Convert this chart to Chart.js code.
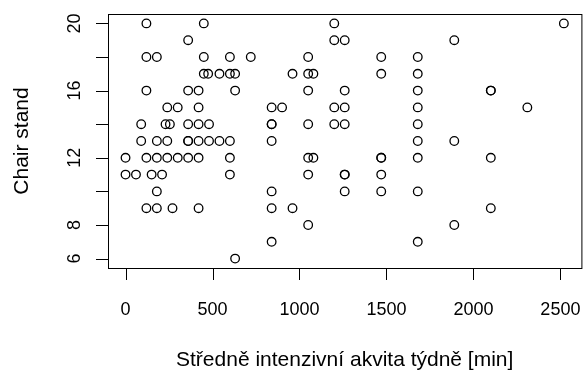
<!DOCTYPE html>
<html>
<head>
<meta charset="utf-8">
<script src="https://cdn.jsdelivr.net/npm/chart.js@4/dist/chart.umd.min.js"></script>
<style>
  html, body { margin: 0; padding: 0; background: #fff; }
</style>
</head>
<body>
<canvas id="plot" width="587" height="370"></canvas>
<script>
// weekly moderate activity [min] and chair stand count, one pair per person
const minutes = [
  120, 450, 1200, 2520,                                   // 20
  360, 1200, 1260, 1890,                                  // 19
  120, 180, 450, 600, 720, 1050, 1470, 1680,              // 18
  450, 475, 540, 600, 630, 960, 1050, 1080, 1470, 1680,   // 17
  120, 360, 420, 630, 1050, 1260, 1680, 2100, 2100,       // 16
  240, 300, 420, 840, 900, 1200, 1260, 1680, 2310,        // 15
  90, 230, 255, 360, 420, 480, 840, 840, 1050, 1200, 1260, 1680,        // 14
  90, 180, 240, 360, 360, 420, 480, 540, 600, 840, 1680, 1890,          // 13
  0, 120, 180, 240, 300, 360, 420, 600, 1050, 1080, 1470, 1470, 1680, 2100, // 12
  0, 60, 150, 210, 600, 1050, 1260, 1260, 1470,           // 11
  180, 840, 1260, 1470, 1680,                             // 10
  120, 180, 270, 420, 840, 960, 2100,                     // 9
  1050, 1890,                                             // 8
  840, 1680,                                              // 7
  630                                                     // 6
];
const chairStand = [
  20, 20, 20, 20,
  19, 19, 19, 19,
  18, 18, 18, 18, 18, 18, 18, 18,
  17, 17, 17, 17, 17, 17, 17, 17, 17, 17,
  16, 16, 16, 16, 16, 16, 16, 16, 16,
  15, 15, 15, 15, 15, 15, 15, 15, 15,
  14, 14, 14, 14, 14, 14, 14, 14, 14, 14, 14, 14,
  13, 13, 13, 13, 13, 13, 13, 13, 13, 13, 13, 13,
  12, 12, 12, 12, 12, 12, 12, 12, 12, 12, 12, 12, 12, 12,
  11, 11, 11, 11, 11, 11, 11, 11, 11,
  10, 10, 10, 10, 10,
  9, 9, 9, 9, 9, 9, 9,
  8, 8,
  7, 7,
  6
];

const xTicks = [0, 500, 1000, 1500, 2000, 2500];
const yTicks = [6, 8, 10, 12, 14, 16, 18, 20];
// labels that would overlap are left out, like R does
const yTickLabels = ["6", "8", "", "12", "", "16", "", "20"];
const xTitle = "Středně intenzivní akvita týdně [min]";
const yTitle = "Chair stand";

const FAMILY = '"Liberation Sans", Arial, sans-serif';
const TICK = 12;

// R style frame, axes and labels
const rAxes = {
  id: "rAxes",
  afterDraw(chart) {
    const { ctx, chartArea: a, scales: { x, y } } = chart;
    ctx.save();
    ctx.strokeStyle = "#000";
    ctx.lineWidth = 1;
    ctx.strokeRect(a.left + 0.5, a.top + 0.5, a.right - a.left, a.bottom - a.top);

    ctx.beginPath();
    xTicks.forEach(v => {
      const px = Math.round(x.getPixelForValue(v)) + 0.5;
      ctx.moveTo(px, a.bottom);
      ctx.lineTo(px, a.bottom + TICK);
    });
    yTicks.forEach(v => {
      const py = Math.round(y.getPixelForValue(v)) + 0.5;
      ctx.moveTo(a.left - TICK, py);
      ctx.lineTo(a.left, py);
    });
    ctx.stroke();

    ctx.fillStyle = "#000";
    ctx.textAlign = "center";
    ctx.textBaseline = "alphabetic";
    ctx.font = "18px " + FAMILY;
    xTicks.forEach(v => ctx.fillText(String(v), x.getPixelForValue(v), a.bottom + 47));
    yTicks.forEach((v, i) => {
      if (!yTickLabels[i]) return;
      ctx.save();
      ctx.translate(a.left - 28, y.getPixelForValue(v));
      ctx.rotate(-Math.PI / 2);
      ctx.fillText(yTickLabels[i], 0, 0);
      ctx.restore();
    });

    ctx.font = "21px " + FAMILY;
    ctx.fillText(xTitle, (a.left + a.right) / 2, a.bottom + 98);
    ctx.save();
    ctx.translate(28, (a.top + a.bottom) / 2);
    ctx.rotate(-Math.PI / 2);
    ctx.fillText(yTitle, 0, 0);
    ctx.restore();
    ctx.restore();
  }
};

new Chart(document.getElementById("plot"), {
  type: "scatter",
  data: {
    datasets: [{
      data: minutes.map((m, i) => ({ x: m, y: chairStand[i] })),
      pointStyle: "circle",
      pointRadius: 4.3,
      pointBorderWidth: 1.3,
      pointBorderColor: "#000",
      pointBackgroundColor: "rgba(0,0,0,0)"
    }]
  },
  options: {
    responsive: false,
    animation: false,
    layout: { padding: { left: 108, top: 14, right: 5, bottom: 102 } },
    plugins: { legend: { display: false }, tooltip: { enabled: false } },
    scales: {
      // 4% range extension as in R's default plot
      x: { type: "linear", min: -100.8, max: 2620.8, display: false },
      y: { type: "linear", min: 5.44, max: 20.56, display: false }
    }
  },
  plugins: [rAxes]
});
</script>
</body>
</html>
